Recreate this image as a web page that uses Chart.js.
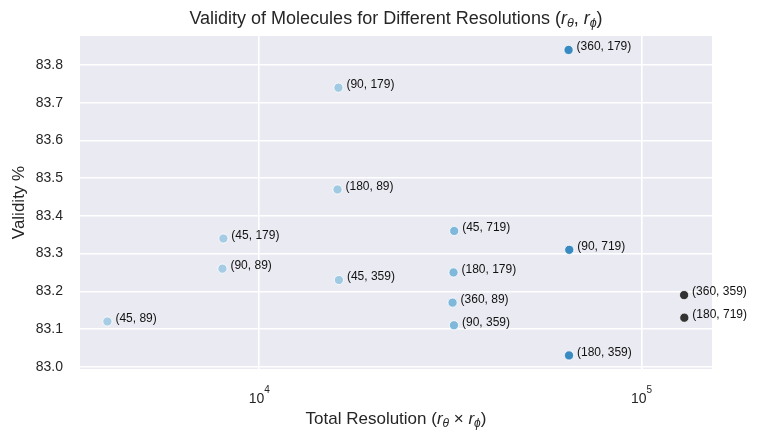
<!DOCTYPE html>
<html>
<head>
<meta charset="utf-8">
<script src="https://cdn.jsdelivr.net/npm/chart.js@4.4.1/dist/chart.umd.min.js"></script>
<style>
  html, body { margin: 0; padding: 0; background: #ffffff; }
  #wrap { width: 761px; height: 444px; position: relative; }
</style>
</head>
<body>
<div id="wrap"><canvas id="c" width="761" height="444"></canvas></div>
<script>
// ---- data ----
const rTheta = [45, 90, 45, 90, 180, 45, 45, 180, 360, 90, 360, 90, 180, 360, 180];
const rPhi   = [89, 89, 179, 179, 89, 359, 719, 179, 89, 359, 179, 719, 359, 359, 719];
const validity = [83.12, 83.26, 83.34, 83.74, 83.47, 83.23, 83.36, 83.25, 83.17, 83.11, 83.84, 83.31, 83.03, 83.19, 83.13];
const pointColors = ['#a6cde4', '#a5cce4', '#a5cce4', '#a0c9e2', '#a0c9e2', '#a0c9e2', '#7fb8da', '#7fb8da', '#7fb8da', '#7fb8da', '#3a8ac2', '#3a8ac2', '#3a8ac2', '#333333', '#333333'];
const xTickValues = [1e4, 1e5];
const xTickExponents = ['4', '5'];
const yTicks = [83.0, 83.1, 83.2, 83.3, 83.4, 83.5, 83.6, 83.7, 83.8];

const totalRes = rTheta.map((t, i) => t * rPhi[i]);
const pointLabels = rTheta.map((t, i) => '(' + t + ', ' + rPhi[i] + ')');
const points = totalRes.map((x, i) => ({ x: x, y: validity[i] }));

const FONT = '"Liberation Sans", Arial, Helvetica, sans-serif';
const TXT = '#262626';

function drawRich(ctx, runs, x, y, align) {
  // measure
  let total = 0;
  runs.forEach(r => {
    ctx.font = (r.italic ? 'italic ' : '') + r.size + 'px ' + FONT;
    r.w = ctx.measureText(r.text).width;
    total += r.w;
  });
  let cx = align === 'center' ? x - total / 2 : x;
  runs.forEach(r => {
    ctx.font = (r.italic ? 'italic ' : '') + r.size + 'px ' + FONT;
    ctx.fillText(r.text, cx, y + (r.dy || 0));
    cx += r.w;
  });
}

const customText = {
  id: 'customText',
  beforeDraw(chart) {
    const { ctx, chartArea } = chart;
    ctx.save();
    ctx.fillStyle = '#eaeaf2';
    ctx.fillRect(chartArea.left, chartArea.top, chartArea.right - chartArea.left, chartArea.bottom - chartArea.top);
    ctx.restore();
  },
  afterDatasetsDraw(chart) {
    const { ctx, chartArea } = chart;
    const meta = chart.getDatasetMeta(0);
    ctx.save();
    ctx.fillStyle = '#111111';
    ctx.font = '12px ' + FONT;
    ctx.textAlign = 'left';
    ctx.textBaseline = 'middle';
    meta.data.forEach((el, i) => {
      ctx.fillText(pointLabels[i], el.x + 8, el.y - 3);
    });
    ctx.restore();
  },
  afterDraw(chart) {
    const { ctx, chartArea, scales } = chart;
    const cx = (chartArea.left + chartArea.right) / 2;
    ctx.save();
    ctx.fillStyle = TXT;
    ctx.textBaseline = 'alphabetic';
    ctx.textAlign = 'left';
    // title
    drawRich(ctx, [
      { text: 'Validity of Molecules for Different Resolutions (', size: 18 },
      { text: 'r', size: 18, italic: true },
      { text: 'θ', size: 12.5, italic: true, dy: 3 },
      { text: ', ', size: 18 },
      { text: 'r', size: 18, italic: true },
      { text: 'ϕ', size: 12.5, italic: true, dy: 3 },
      { text: ')', size: 18 }
    ], cx, 24, 'center');
    // x axis title
    drawRich(ctx, [
      { text: 'Total Resolution (', size: 17 },
      { text: 'r', size: 17, italic: true },
      { text: 'θ', size: 12, italic: true, dy: 3 },
      { text: ' × ', size: 17 },
      { text: 'r', size: 17, italic: true },
      { text: 'ϕ', size: 12, italic: true, dy: 3 },
      { text: ')', size: 17 }
    ], cx, 424, 'center');
    // x tick labels 10^n
    xTickValues.forEach((v, i) => {
      const px = scales.x.getPixelForValue(v);
      ctx.font = '14px ' + FONT;
      const w1 = ctx.measureText('10').width;
      ctx.font = '10px ' + FONT;
      const w2 = ctx.measureText(xTickExponents[i]).width;
      const start = px - (w1 + w2) / 2;
      ctx.font = '14px ' + FONT;
      ctx.fillText('10', start, 403);
      ctx.font = '10px ' + FONT;
      ctx.fillText(xTickExponents[i], start + w1, 393);
    });
    // y axis title
    ctx.translate(24, (chartArea.top + chartArea.bottom) / 2);
    ctx.rotate(-Math.PI / 2);
    ctx.textAlign = 'center';
    ctx.font = '17px ' + FONT;
    ctx.fillText('Validity %', 0, 0);
    ctx.restore();
  }
};

new Chart(document.getElementById('c'), {
  type: 'scatter',
  data: {
    datasets: [{
      data: points,
      pointBackgroundColor: pointColors,
      pointBorderColor: '#ffffff',
      pointBorderWidth: 0.8,
      pointRadius: 4.6,
      pointHoverRadius: 4.6
    }]
  },
  options: {
    responsive: false,
    animation: false,
    events: [],
    layout: { padding: { top: 36, right: 49, left: 0, bottom: 0 } },
    plugins: { legend: { display: false }, tooltip: { enabled: false }, title: { display: false } },
    scales: {
      x: {
        type: 'logarithmic',
        min: 3396,
        max: 152900,
        afterBuildTicks(scale) { scale.ticks = xTickValues.map(v => ({ value: v })); },
        afterFit(scale) { scale.height = 75; },
        ticks: { display: false },
        grid: { color: '#ffffff', lineWidth: 1.6, drawTicks: false },
        border: { display: false }
      },
      y: {
        type: 'linear',
        min: 82.994,
        max: 83.877,
        afterBuildTicks(scale) { scale.ticks = yTicks.map(v => ({ value: v })); },
        afterFit(scale) { scale.width = 80; },
        ticks: {
          color: TXT,
          font: { family: FONT, size: 14 },
          padding: 17,
          callback: v => v.toFixed(1)
        },
        grid: { color: '#ffffff', lineWidth: 1.6, drawTicks: false },
        border: { display: false }
      }
    }
  },
  plugins: [customText]
});
</script>
</body>
</html>
